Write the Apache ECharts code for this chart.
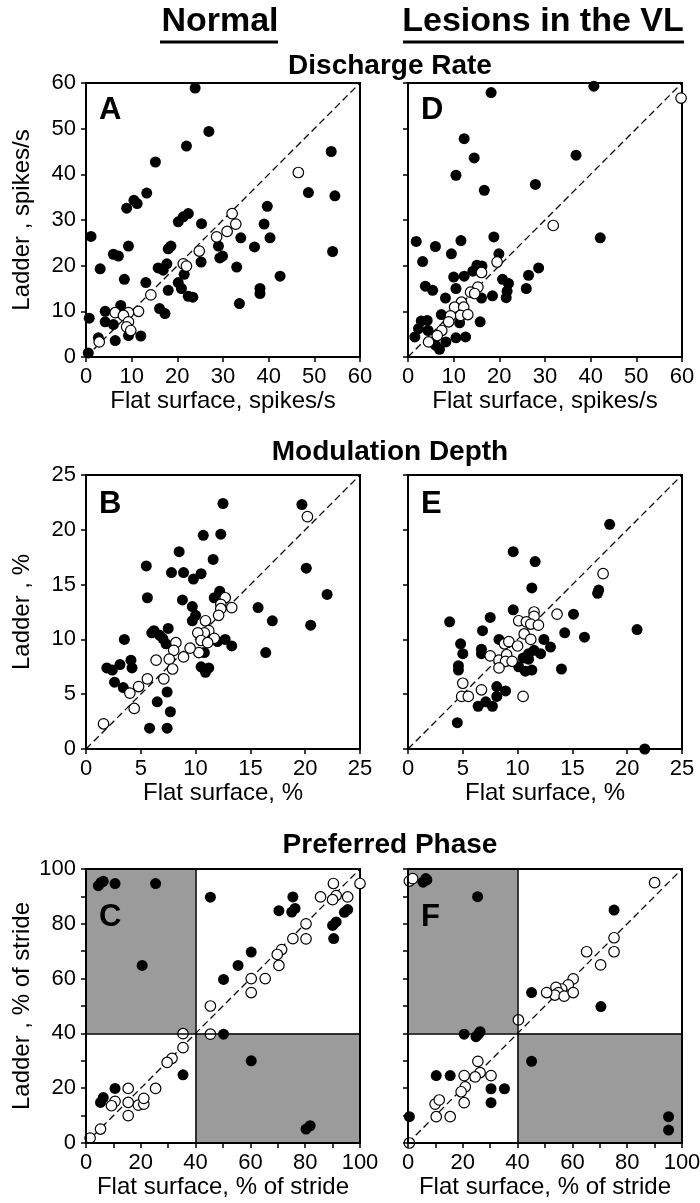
<!DOCTYPE html>
<html><head><meta charset="utf-8">
<script src="https://cdn.jsdelivr.net/npm/echarts@6/dist/echarts.min.js"></script>
<style>html,body{margin:0;padding:0;background:#fff}#c{width:700px;height:1203px}</style>
</head><body><div id="c"></div><script>
// ---------- DATA ----------
const rateNormalFilled = [[23.9,58.9],[26.9,49.4],[22.0,46.2],[15.2,42.7],[13.3,35.9],[8.9,32.6],[10.5,34.3],[11.2,33.6],[1.1,26.4],[3.1,19.3],[6.0,22.5],[7.1,22.1],[9.3,24.3],[8.4,17.0],[13.1,16.3],[20.2,29.6],[21.3,30.7],[22.4,31.4],[25.3,29.2],[18.0,23.7],[18.6,24.3],[17.7,20.4],[15.8,19.5],[16.9,19.0],[18.0,14.6],[20.2,16.3],[20.9,15.0],[21.5,18.1],[22.4,13.3],[23.4,13.1],[25.2,20.8],[29.0,24.3],[29.3,21.7],[29.9,22.1],[33.0,19.7],[33.9,26.1],[33.6,11.7],[36.9,24.1],[39.0,29.1],[39.7,33.0],[40.3,26.1],[38.1,15.0],[38.1,13.9],[42.5,17.7],[48.7,36.0],[16.1,10.6],[17.3,9.5],[0.7,8.5],[4.2,10.0],[4.2,7.7],[6.0,7.1],[7.6,11.3],[6.4,3.6],[9.3,4.7],[12.0,4.6],[0.5,0.9],[2.7,4.2],[53.7,45.0],[54.5,35.3],[54.0,23.1]];
const rateNormalOpen = [[46.5,40.4],[32.0,31.4],[32.8,29.1],[30.9,27.5],[28.6,26.3],[24.8,23.2],[21.3,20.4],[22.0,19.9],[14.2,13.6],[11.5,10.0],[9.3,9.7],[6.4,9.7],[8.2,9.1],[9.3,7.7],[8.9,6.6],[9.8,5.8],[2.9,3.3]];
const rateLesionFilled = [[40.7,59.3],[18.2,57.9],[12.3,47.8],[14.5,43.6],[36.8,44.2],[10.5,39.8],[27.9,37.8],[16.7,36.5],[42.1,26.1],[18.8,26.3],[1.8,25.3],[6.0,24.2],[11.6,25.5],[9.5,22.6],[19.9,22.6],[3.2,20.9],[28.6,19.5],[26.4,17.9],[20.7,17.0],[22.0,16.1],[21.7,14.4],[21.5,13.0],[25.9,15.0],[15.1,20.1],[16.2,19.9],[14.2,18.8],[10.0,17.5],[12.3,17.7],[10.5,15.0],[3.8,15.5],[5.4,14.6],[8.2,12.9],[16.1,12.9],[18.5,13.4],[7.3,9.3],[11.3,7.5],[15.8,7.7],[2.9,7.9],[4.2,8.0],[2.3,6.2],[4.4,5.8],[1.5,4.4],[6.0,2.6],[6.9,1.7],[8.3,3.3],[10.5,4.2],[12.6,4.4]];
const rateLesionOpen = [[59.8,56.7],[31.8,28.8],[19.5,20.8],[16.1,18.5],[15.3,15.3],[13.7,14.2],[14.6,13.9],[11.7,12.0],[10.2,10.9],[12.2,10.9],[11.5,9.1],[13.1,9.3],[9.3,9.0],[8.9,7.7],[7.4,5.8],[6.4,4.7],[4.5,3.3]];
const depthNormalFilled = [[12.5,22.4],[19.7,22.3],[10.7,19.5],[12.3,19.6],[8.5,18.0],[11.6,17.3],[5.5,16.7],[7.8,16.1],[8.9,16.1],[10.5,16.0],[9.8,15.5],[20.1,16.5],[5.6,13.8],[8.8,13.6],[12.2,14.4],[11.7,13.8],[22.0,14.1],[9.7,13.0],[10.0,12.2],[9.7,11.7],[15.7,12.9],[17.0,11.7],[20.5,11.3],[6.2,10.8],[6.0,10.6],[6.7,10.4],[7.5,11.0],[7.0,10.1],[7.3,9.6],[3.5,10.0],[12.0,9.8],[12.7,10.0],[13.3,9.4],[10.8,8.8],[4.1,8.1],[4.2,7.4],[3.1,7.7],[1.9,7.4],[2.4,7.2],[10.5,7.5],[10.9,7.2],[11.2,7.4],[10.9,7.0],[16.4,8.8],[2.6,6.1],[3.4,5.6],[7.4,5.2],[6.5,4.3],[7.7,3.4],[5.8,1.9],[7.4,1.9]];
const depthNormalOpen = [[20.2,21.2],[12.7,13.8],[12.3,13.2],[12.3,12.8],[13.3,12.9],[12.1,12.2],[10.9,11.7],[11.2,10.8],[10.8,10.6],[10.2,10.6],[10.5,9.9],[11.7,10.1],[11.1,9.7],[10.3,8.8],[9.5,9.2],[8.2,9.7],[8.0,9.0],[8.9,8.4],[7.6,8.2],[6.4,8.1],[7.9,7.3],[7.1,6.4],[5.6,6.4],[4.8,5.7],[4.0,5.1],[4.4,3.7],[1.6,2.3]];
const depthLesionFilled = [[18.4,20.5],[9.6,18.0],[11.6,17.1],[11.3,14.7],[17.4,14.5],[17.3,14.2],[9.6,12.7],[7.5,12.0],[3.8,11.6],[15.1,12.3],[14.3,10.6],[6.8,10.8],[20.9,10.9],[16.1,10.2],[8.3,10.0],[12.4,10.0],[13.0,9.3],[4.8,9.6],[5.0,8.7],[6.7,9.1],[6.7,8.7],[10.5,8.3],[11.0,8.7],[11.5,9.0],[12.1,8.7],[11.0,8.2],[10.1,7.5],[10.7,7.1],[11.3,7.2],[14.0,7.3],[4.6,7.6],[4.6,7.2],[8.1,5.7],[8.9,5.3],[8.1,4.8],[7.1,4.3],[6.4,3.9],[7.7,3.9],[4.5,2.4],[21.6,0.0]];
const depthLesionOpen = [[17.8,16.0],[13.6,12.3],[11.5,12.5],[11.5,12.1],[10.1,11.7],[10.8,11.6],[11.2,11.4],[11.9,11.3],[10.6,10.5],[11.2,10.0],[8.8,9.6],[9.2,9.8],[10.0,9.4],[7.5,8.5],[8.3,8.1],[9.0,8.6],[8.9,8.0],[9.5,8.0],[8.3,7.4],[5.0,6.0],[6.7,5.4],[4.9,4.8],[5.5,4.8],[10.5,4.8]];
const phaseNormalFilled = [[4.5,93.9],[5.5,95.1],[6.3,95.5],[10.6,94.7],[25.4,94.7],[20.5,64.8],[45.4,89.7],[70.4,84.8],[75.1,84.3],[76.3,85.6],[75.5,89.8],[50.2,59.7],[55.5,64.8],[60.3,69.7],[90.0,79.4],[91.3,80.7],[90.4,74.6],[94.3,84.2],[95.5,85.2],[50.2,39.7],[60.3,30.0],[35.4,24.9],[10.6,19.9],[6.3,16.6],[5.3,14.8],[80.3,5.1],[81.8,6.3]];
const phaseNormalOpen = [[100,94.7],[90.3,94.7],[91.3,90.3],[95.5,89.8],[85.6,89.8],[90.0,88.8],[80.3,80.0],[80.3,74.5],[75.5,74.6],[71.4,70.6],[69.8,68.8],[70.4,64.8],[60.3,60.0],[65.4,60.0],[60.3,54.9],[45.4,50.0],[45.4,39.7],[35.4,39.9],[35.4,34.8],[31.4,30.9],[29.6,29.4],[25.4,19.9],[15.4,19.9],[10.6,15.2],[9.3,13.6],[15.4,14.8],[15.4,10.0],[19.1,13.8],[21.1,14.2],[21.1,16.3],[5.3,5.1],[1.5,1.8]];
const phaseLesionFilled = [[5.5,95.2],[6.5,96.5],[6.9,96.0],[25.4,89.9],[75.2,85.0],[45.1,54.9],[70.4,49.8],[20.5,39.7],[24.8,38.8],[26.3,40.6],[25.7,39.7],[45.1,29.8],[10.3,24.6],[15.4,24.6],[30.3,19.8],[35.2,19.8],[30.3,14.7],[0.5,9.6],[95.1,9.6],[95.1,4.7]];
const phaseLesionOpen = [[0.5,95.6],[1.7,96.5],[90.0,95.0],[75.2,74.9],[75.2,69.8],[65.2,69.8],[70.3,65.0],[60.3,59.9],[58.5,57.7],[56.1,56.2],[54.0,56.8],[54.9,54.9],[53.6,54.0],[50.6,54.9],[57.0,53.6],[60.3,54.9],[40.3,44.9],[25.5,29.8],[26.3,25.7],[24.5,24.1],[30.3,24.6],[20.5,24.6],[20.9,20.5],[19.4,18.7],[20.5,14.7],[9.9,14.2],[11.4,15.7],[10.3,9.6],[15.4,9.6],[0.5,0]];

const rateRange = [0, 60], rateStep = 10, rateLabelStep = 10;
const depthRange = [0, 25], depthStep = 5, depthLabelStep = 5;
const phaseRange = [0, 100], phaseStep = 10, phaseLabelStep = 20;
const phaseSplit = 40;

const groupTitles = ['Normal', 'Lesions in the VL'];
const rowTitles = ['Discharge Rate', 'Modulation Depth', 'Preferred Phase'];
const panelLetters = ['A', 'D', 'B', 'E', 'C', 'F'];
const xNames = ['Flat surface, spikes/s', 'Flat surface, %', 'Flat surface, % of stride'];
const yNames = ['Ladder , spikes/s', 'Ladder , %', 'Ladder , % of stride'];

// ---------- BUILD ----------
const FONT = '"Liberation Sans", Arial, sans-serif';
const rows = [
  {range: rateRange, step: rateStep, lab: rateLabelStep, data: [[rateNormalFilled, rateNormalOpen], [rateLesionFilled, rateLesionOpen]], quad: false},
  {range: depthRange, step: depthStep, lab: depthLabelStep, data: [[depthNormalFilled, depthNormalOpen], [depthLesionFilled, depthLesionOpen]], quad: false},
  {range: phaseRange, step: phaseStep, lab: phaseLabelStep, data: [[phaseNormalFilled, phaseNormalOpen], [phaseLesionFilled, phaseLesionOpen]], quad: true}
];
const gridTops = [83, 475, 869];
const gridLefts = [86, 408];
const titleYs = [66, 452, 845];
const letterOffsets = [12, 14, 33];
const SIZE = 274;

const grids = [], xAxes = [], yAxes = [], series = [], graphics = [];
let gi = 0;
rows.forEach((row, r) => {
  [0, 1].forEach(c => {
    grids.push({left: gridLefts[c], top: gridTops[r], width: SIZE, height: SIZE, show: true,
      borderColor: '#000', borderWidth: 2, backgroundColor: 'transparent', z: 2, outerBoundsMode: 'none', containLabel: false});
    const fmt = v => (v % row.lab === 0 ? String(v) : '');
    const common = {gridIndex: gi, type: 'value', min: row.range[0], max: row.range[1], interval: row.step,
      axisLine: {show: true, onZero: false, lineStyle: {color: '#000', width: 2}},
      axisTick: {show: true, inside: false, length: 5, lineStyle: {color: '#000', width: 1.5}},
      splitLine: {show: false}, z: 5};
    xAxes.push(Object.assign({}, common, {
      axisLabel: {show: true, margin: 9, fontSize: 22, color: '#000', fontFamily: FONT, formatter: fmt},
      name: xNames[r], nameLocation: 'middle', nameGap: 32,
      nameTextStyle: {fontSize: 24, color: '#000', fontFamily: FONT}
    }));
    yAxes.push(Object.assign({}, common, {
      axisLabel: {show: c === 0, margin: 10, fontSize: 22, color: '#000', fontFamily: FONT, formatter: fmt},
      name: c === 0 ? yNames[r] : '', nameLocation: 'middle', nameGap: 52,
      nameTextStyle: {fontSize: 24, color: '#000', fontFamily: FONT}
    }));
    const diag = {type: 'line', xAxisIndex: gi, yAxisIndex: gi, silent: true, symbol: 'none', z: 1,
      data: [[row.range[0], row.range[0]], [row.range[1], row.range[1]]],
      lineStyle: {color: '#000', width: 1.3, type: [7, 4]}};
    if (row.quad) {
      diag.markArea = {silent: true, itemStyle: {color: '#9b9b9b'},
        data: [[{coord: [row.range[0], phaseSplit]}, {coord: [phaseSplit, row.range[1]]}],
               [{coord: [phaseSplit, row.range[0]]}, {coord: [row.range[1], phaseSplit]}]]};
      diag.markLine = {silent: true, symbol: 'none', label: {show: false},
        lineStyle: {color: '#000', width: 1.5, type: 'solid'},
        data: [{xAxis: phaseSplit}, {yAxis: phaseSplit}]};
    }
    series.push(diag);
    series.push({type: 'scatter', xAxisIndex: gi, yAxisIndex: gi, symbol: 'circle', symbolSize: 11, z: 3,
      data: row.data[c][0], itemStyle: {color: '#000', opacity: 1}});
    series.push({type: 'scatter', xAxisIndex: gi, yAxisIndex: gi, symbol: 'circle', symbolSize: 10.5, z: 4,
      data: row.data[c][1], itemStyle: {color: '#fff', borderColor: '#000', borderWidth: 1.2, opacity: 1}});
    graphics.push({type: 'text', x: gridLefts[c] + 13, y: gridTops[r] + letterOffsets[r], z: 10,
      style: {text: panelLetters[gi], font: 'bold 31px ' + FONT, fill: '#000', textAlign: 'left', textVerticalAlign: 'top'}});
    gi++;
  });
  graphics.push({type: 'text', x: 390, y: titleYs[r], z: 10,
    style: {text: rowTitles[r], font: 'bold 28px ' + FONT, fill: '#000', textAlign: 'center', textVerticalAlign: 'middle'}});
});
const headCenters = [220, 543];
groupTitles.forEach((t, i) => {
  graphics.push({type: 'text', x: headCenters[i], y: 22, z: 10,
    style: {text: t, font: 'bold 34px ' + FONT, fill: '#000', textAlign: 'center', textVerticalAlign: 'middle'}});
});
graphics.push({type: 'line', z: 10, shape: {x1: 160, y1: 42, x2: 278, y2: 42}, style: {stroke: '#000', lineWidth: 3}});
graphics.push({type: 'line', z: 10, shape: {x1: 403, y1: 42, x2: 684, y2: 42}, style: {stroke: '#000', lineWidth: 3}});

const chart = echarts.init(document.getElementById('c'), null, {renderer: 'canvas'});
chart.setOption({animation: false, backgroundColor: '#fff', grid: grids, xAxis: xAxes, yAxis: yAxes, series: series, graphic: graphics});
</script></body></html>
